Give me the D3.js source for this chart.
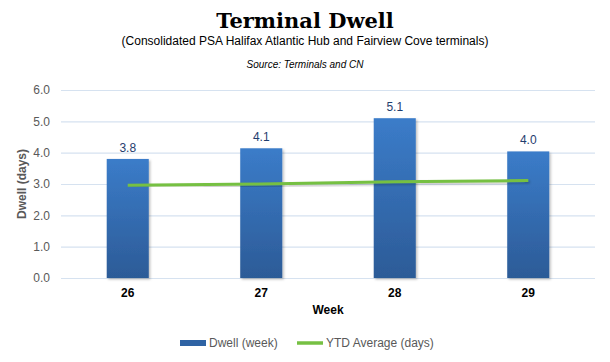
<!DOCTYPE html>
<html>
<head>
<meta charset="utf-8">
<script src="https://cdn.jsdelivr.net/npm/d3@7"></script>
<style>
  body { margin: 0; background: #fff; }
  text { font-family: "Liberation Sans", Arial, sans-serif; }
</style>
</head>
<body>
<div id="chart"></div>
<script>
const weeks = ['26', '27', '28', '29']
const dwellWeek = [3.8, 4.14, 5.1, 4.04]
const ytdAverage = [2.96, 3.0, 3.07, 3.11]
const yTicks = [0, 1, 2, 3, 4, 5, 6]

const W = 610, H = 362
const MARGIN = { TOP: 90, LEFT: 61, RIGHT: 15, BOTTOM: 84 }
const WIDTH = W - MARGIN.LEFT - MARGIN.RIGHT
const HEIGHT = H - MARGIN.TOP - MARGIN.BOTTOM

const svg = d3.select('#chart').append('svg')
  .attr('width', W)
  .attr('height', H)

const defs = svg.append('defs')
const grad = defs.append('linearGradient')
  .attr('id', 'barGrad')
  .attr('x1', 0).attr('y1', 0).attr('x2', 0).attr('y2', 1)
grad.append('stop').attr('offset', '0%').attr('stop-color', '#3b7cc9')
grad.append('stop').attr('offset', '100%').attr('stop-color', '#2c5b97')

const shadow = defs.append('filter').attr('id', 'shadow')
  .attr('x', '-20%').attr('y', '-20%').attr('width', '140%').attr('height', '140%')
shadow.append('feDropShadow')
  .attr('dx', 1.5).attr('dy', 1.5).attr('stdDeviation', 1.2)
  .attr('flood-color', '#000').attr('flood-opacity', 0.25)

// titles
svg.append('text')
  .attr('x', 305).attr('y', 28)
  .attr('text-anchor', 'middle')
  .style('font-family', '"DejaVu Serif", serif')
  .style('font-weight', 'bold')
  .style('font-size', '21px')
  .text('Terminal Dwell')

svg.append('text')
  .attr('x', 305).attr('y', 45)
  .attr('text-anchor', 'middle')
  .style('font-size', '12px')
  .attr('fill', '#000')
  .text('(Consolidated PSA Halifax Atlantic Hub and Fairview Cove terminals)')

svg.append('text')
  .attr('x', 305).attr('y', 68)
  .attr('text-anchor', 'middle')
  .style('font-size', '10px')
  .style('font-style', 'italic')
  .text('Source: Terminals and CN')

const g = svg.append('g')
  .attr('transform', `translate(${MARGIN.LEFT}, ${MARGIN.TOP})`)

const x = d3.scaleBand()
  .domain(weeks)
  .range([0, WIDTH])
  .paddingInner(0.685)
  .paddingOuter(0.3425)

const y = d3.scaleLinear()
  .domain([0, 6])
  .range([HEIGHT, 0])

// gridlines
g.append('g')
  .call(d3.axisLeft(y).tickValues(yTicks).tickSize(-WIDTH).tickFormat(''))
  .call(ax => ax.select('.domain').remove())
  .call(ax => ax.selectAll('line').attr('stroke', '#d6e2f0').attr('stroke-width', 1.2))

// y tick labels
g.append('g')
  .call(d3.axisLeft(y).tickValues(yTicks).tickSize(0).tickPadding(11).tickFormat(d3.format('.1f')))
  .call(ax => ax.select('.domain').remove())
  .call(ax => ax.selectAll('text')
    .style('font-size', '12px')
    .style('font-family', '"Liberation Sans", Arial, sans-serif')
    .attr('fill', '#595959'))

// bars
g.selectAll('rect.bar')
  .data(dwellWeek)
  .enter()
  .append('rect')
    .attr('class', 'bar')
    .attr('x', (d, i) => x(weeks[i]))
    .attr('y', d => y(d))
    .attr('width', x.bandwidth())
    .attr('height', d => HEIGHT - y(d))
    .attr('fill', 'url(#barGrad)')
    .attr('filter', 'url(#shadow)')

// bar labels
g.selectAll('text.lbl')
  .data(dwellWeek)
  .enter()
  .append('text')
    .attr('class', 'lbl')
    .attr('x', (d, i) => x(weeks[i]) + x.bandwidth() / 2)
    .attr('y', d => y(d) - 7)
    .attr('text-anchor', 'middle')
    .style('font-size', '12px')
    .attr('fill', '#1f3d6e')
    .text(d => d.toFixed(1))

// YTD line
const line = d3.line()
  .x((d, i) => x(weeks[i]) + x.bandwidth() / 2)
  .y(d => y(d))

g.append('path')
  .datum(ytdAverage)
  .attr('d', line)
  .attr('fill', 'none')
  .attr('stroke', '#76c043')
  .attr('stroke-width', 3)
  .attr('filter', 'url(#shadow)')

// x axis
g.append('g')
  .attr('transform', `translate(0, ${HEIGHT})`)
  .call(d3.axisBottom(x).tickSize(0).tickPadding(10))
  .call(ax => ax.select('.domain').remove())
  .call(ax => ax.selectAll('text')
    .style('font-size', '12px')
    .style('font-weight', 'bold')
    .style('font-family', '"Liberation Sans", Arial, sans-serif')
    .attr('fill', '#000'))

// axis titles
svg.append('text')
  .attr('x', 328).attr('y', 314)
  .attr('text-anchor', 'middle')
  .style('font-size', '12px')
  .style('font-weight', 'bold')
  .text('Week')

svg.append('text')
  .attr('transform', `translate(26, ${MARGIN.TOP + HEIGHT / 2}) rotate(-90)`)
  .attr('text-anchor', 'middle')
  .style('font-size', '12px')
  .style('font-weight', 'bold')
  .attr('fill', '#595959')
  .text('Dwell (days)')

// legend
const legend = svg.append('g').attr('transform', 'translate(180, 343)')
legend.append('rect')
  .attr('x', 0).attr('y', -3).attr('width', 26).attr('height', 6)
  .attr('fill', '#2f63a4')
legend.append('text')
  .attr('x', 29).attr('y', 4)
  .style('font-size', '12px')
  .attr('fill', '#595959')
  .text('Dwell (week)')
legend.append('line')
  .attr('x1', 117).attr('x2', 143).attr('y1', 0).attr('y2', 0)
  .attr('stroke', '#76c043').attr('stroke-width', 3.5)
legend.append('text')
  .attr('x', 146).attr('y', 4)
  .style('font-size', '12px')
  .attr('fill', '#595959')
  .text('YTD Average (days)')
</script>
</body>
</html>
